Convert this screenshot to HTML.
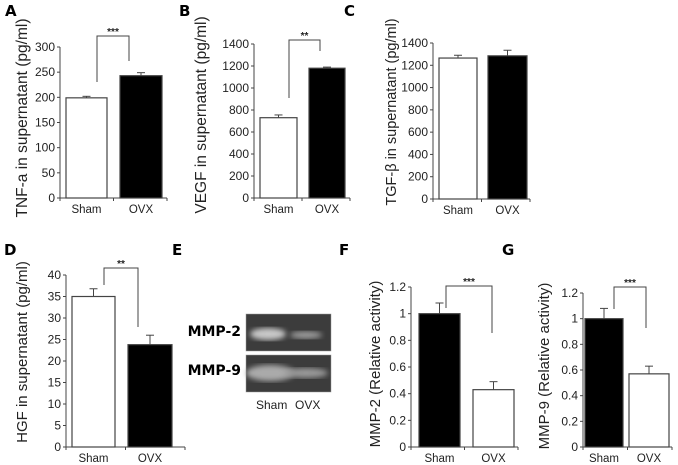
<!DOCTYPE html>
<html><head><meta charset="utf-8"><style>
body{margin:0;background:#fff;}
svg{display:block;font-family:"Liberation Sans",sans-serif;}
.lt{font-family:"DejaVu Sans","Liberation Sans",sans-serif;font-weight:bold;font-size:15px;}
</style></head><body>
<svg id="fig" width="678" height="465" viewBox="0 0 678 465">
<defs>
<filter id="blur"><feGaussianBlur stdDeviation="2.6"/></filter>
</defs>
<text class="lt" x="5" y="16">A</text>
<text class="lt" x="179" y="16">B</text>
<text class="lt" x="344" y="16">C</text>
<text class="lt" x="4" y="255">D</text>
<text class="lt" x="172" y="255">E</text>
<text class="lt" x="339" y="255">F</text>
<text class="lt" x="502" y="255">G</text>

<g>
<text x="241" y="336" text-anchor="end" font-family="DejaVu Sans,sans-serif" font-weight="bold" font-size="14">MMP-2</text>
<text x="241" y="375" text-anchor="end" font-family="DejaVu Sans,sans-serif" font-weight="bold" font-size="14">MMP-9</text>
<rect x="246" y="314" width="85" height="37" fill="#3c3c3c" stroke="#999" stroke-width="0.5"/>
<ellipse cx="268" cy="334" rx="18" ry="6" fill="#c8c8c8" filter="url(#blur)"/>
<ellipse cx="306" cy="335" rx="16" ry="3.5" fill="#a0a0a0" filter="url(#blur)"/>
<rect x="246" y="355" width="85" height="37" fill="#3c3c3c" stroke="#999" stroke-width="0.5"/>
<ellipse cx="270" cy="373" rx="24" ry="8" fill="#aaaaaa" filter="url(#blur)"/>
<ellipse cx="306" cy="373" rx="22" ry="5" fill="#999" filter="url(#blur)"/>
<text x="256" y="409" font-size="12" fill="#222">Sham</text>
<text x="295" y="409" font-size="12" fill="#222">OVX</text>
</g>
</svg>
<script>
const categories=["Sham","OVX"];
const tnfValues=[199,243]; const tnfErr=[3,6]; const tnfTicks=[0,50,100,150,200,250,300];
const vegfValues=[730,1180]; const vegfErr=[25,10]; const vegfTicks=[0,200,400,600,800,1000,1200,1400];
const tgfValues=[1265,1285]; const tgfErr=[25,50]; const tgfTicks=[0,200,400,600,800,1000,1200,1400];
const hgfValues=[35,23.8]; const hgfErr=[1.8,2.2]; const hgfTicks=[0,5,10,15,20,25,30,35,40];
const mmp2Values=[1,0.43]; const mmp2Err=[0.08,0.06]; const mmp2Ticks=[0,0.2,0.4,0.6,0.8,1,1.2];
const mmp9Values=[1,0.57]; const mmp9Err=[0.08,0.06]; const mmp9Ticks=[0,0.2,0.4,0.6,0.8,1,1.2];

const NS="http://www.w3.org/2000/svg";
const svg=document.getElementById('fig');
function mk(tag,attrs,parent){const e=document.createElementNS(NS,tag);for(const k in attrs)e.setAttribute(k,attrs[k]);(parent||svg).appendChild(e);return e;}

function panel(p){
  const g=mk('g',{});
  
  
  const max=p.ticks[p.ticks.length-1];
  const y=v=>p.y0-(v/max)*(p.y0-p.yTop);
  const ya=mk('line',{x1:p.ax,x2:p.ax,y1:p.y0,y2:p.yTop,stroke:'#444','stroke-width':1},g);
  
  
  p.ticks.forEach(t=>{
    mk('line',{x1:p.ax-3,x2:p.ax,y1:y(t),y2:y(t),stroke:'#444'},g);
    const tl=mk('text',{x:p.ax-5,y:y(t)+4,'text-anchor':'end','font-size':12,fill:'#222'},g);
    tl.textContent=String(t);
    
    
  });
  const xa=mk('line',{x1:p.ax,x2:p.axEnd,y1:p.y0,y2:p.y0,stroke:'#444'},g);
  
  
  const mid=(p.ax+p.axEnd)/2;
  [p.ax,mid,p.axEnd].forEach(x=>mk('line',{x1:x,x2:x,y1:p.y0,y2:p.y0+3,stroke:'#444'},g));
  p.vals.forEach((v,i)=>{
    const bx=p.bars[i][0],bw=p.bars[i][1]-p.bars[i][0];
    const cx=bx+bw/2;
    const e=p.err[i];
    mk('line',{x1:cx,x2:cx,y1:y(v),y2:y(v+e),stroke:'#444'},g);
    mk('line',{x1:cx-4,x2:cx+4,y1:y(v+e),y2:y(v+e),stroke:'#444'},g);
    const r=mk('rect',{x:bx,y:y(v),width:bw,height:p.y0-y(v),fill:p.fills[i],stroke:'#444','stroke-width':1.2},g);
    
    
    const cl=mk('text',{x:cx,y:p.y0+15,'text-anchor':'middle','font-size':11.5,fill:'#222'},g);
    cl.textContent=categories[i];
    
    
  });
  if(p.br){
    const b=p.br;
    const pl=mk('polyline',{points:`${b.x1},${b.y1} ${b.x1},${b.top} ${b.x2},${b.top} ${b.x2},${b.y2}`,fill:'none',stroke:'#444'},g);
    
    
    const st=mk('text',{x:(b.x1+b.x2)/2,y:b.top-1,'text-anchor':'middle','font-size':10,'font-weight':'bold',fill:'#222'},g);
    st.textContent=b.s;
    
    
  }
  const t=mk('text',{x:0,y:0,'text-anchor':'middle','font-size':p.tfz||15.5,fill:'#222',transform:`translate(${p.tx},${p.ty}) rotate(-90)`},g);
  t.textContent=p.title;
  
  
}
panel({name:'tnf-chart',ax:60,axEnd:167,y0:198,yTop:47,ticks:tnfTicks,vals:tnfValues,err:tnfErr,bars:[[66,107],[120,162]],fills:['#fff','#000'],br:{x1:97,y1:82,x2:129,y2:61,top:36,s:'***'},title:'TNF-a in supernatant (pg/ml)',tx:27,ty:118});
panel({name:'vegf-chart',ax:254,axEnd:350,y0:198,yTop:44,ticks:vegfTicks,vals:vegfValues,err:vegfErr,bars:[[260,297],[309,345]],fills:['#fff','#000'],br:{x1:289,y1:98,x2:320,y2:51,top:40,s:'**'},title:'VEGF in supernatant (pg/ml)',tx:206,ty:115});
panel({name:'tgf-chart',ax:433,axEnd:530,y0:199,yTop:43,ticks:tgfTicks,vals:tgfValues,err:tgfErr,bars:[[439,477],[488,527]],fills:['#fff','#000'],title:'TGF-β in supernatant (pg/ml)',tx:396,ty:112,tfz:14.5});
panel({name:'hgf-chart',ax:66,axEnd:185,y0:447,yTop:275,ticks:hgfTicks,vals:hgfValues,err:hgfErr,bars:[[72,115],[128,172]],fills:['#fff','#000'],br:{x1:104,y1:285,x2:138,y2:327,top:268,s:'**'},title:'HGF in supernatant  (pg/ml)',tx:27,ty:352,tfz:15});
panel({name:'mmp2-chart',ax:411,axEnd:518,y0:447,yTop:287,ticks:mmp2Ticks,vals:mmp2Values,err:mmp2Err,bars:[[419,460],[473,514]],fills:['#000','#fff'],br:{x1:446,y1:308,x2:492,y2:333,top:286,s:'***'},title:'MMP-2 (Relative activity)',tx:380,ty:364,tfz:15});
panel({name:'mmp9-chart',ax:583,axEnd:672,y0:447,yTop:293,ticks:mmp9Ticks,vals:mmp9Values,err:mmp9Err,bars:[[585,623],[629,669]],fills:['#000','#fff'],br:{x1:614,y1:309,x2:646,y2:328,top:287,s:'***'},title:'MMP-9 (Relative activity)',tx:549,ty:366,tfz:15});
</script>
</body></html>
